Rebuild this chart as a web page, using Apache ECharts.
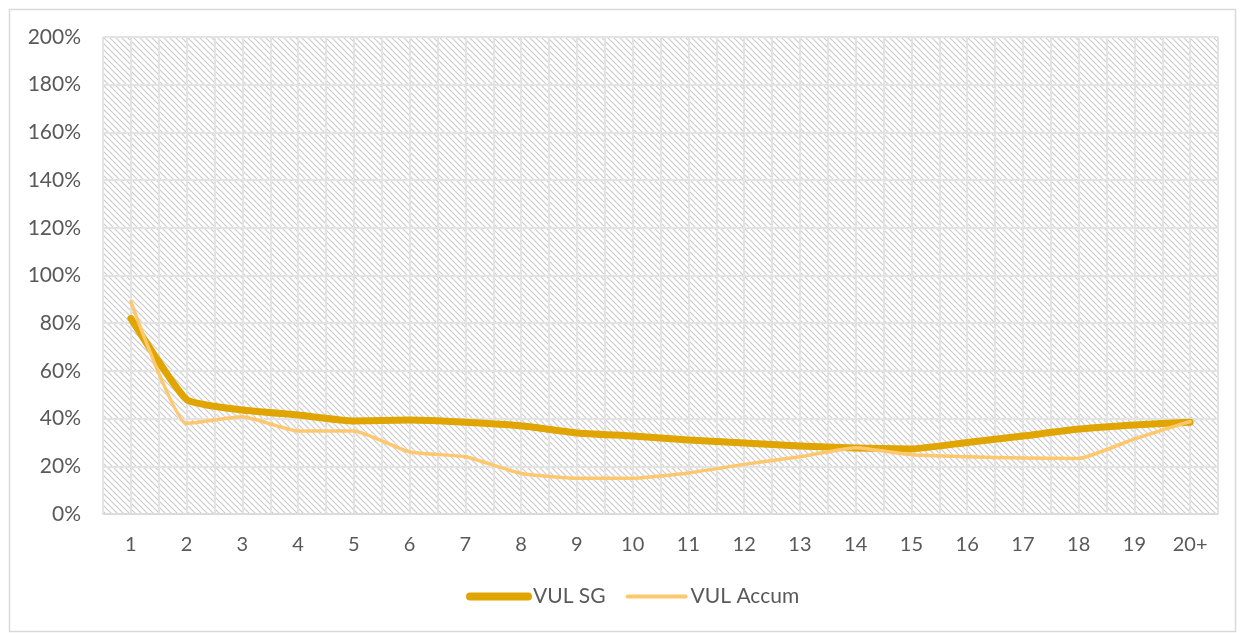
<!DOCTYPE html>
<html>
<head>
<meta charset="utf-8">
<script src="https://cdn.jsdelivr.net/npm/echarts@6/dist/echarts.min.js"></script>
<style>
html,body{margin:0;padding:0;background:#fff;}
#chart{width:1240px;height:633px;}
</style>
</head>
<body>
<div id="chart"></div>
<script>
const categories = ['1','2','3','4','5','6','7','8','9','10','11','12','13','14','15','16','17','18','19','20+'];
const vulSG    = [82, 48, 43.6, 41.5, 39, 39.4, 38.5, 37, 34, 32.7, 31, 29.8, 28.5, 27.7, 27.3, 30, 32.7, 35.6, 37.3, 38.5];
const vulAccum = [89, 38, 40.8, 34.8, 34.8, 26, 24, 17, 15, 15, 17.2, 20.8, 24, 27.8, 24.8, 24, 23.5, 23.3, 31.5, 38.8];
const yTicks = { min: 0, max: 200, interval: 20 };

// hatch pattern
const pc = document.createElement('canvas');
const s = 6;
pc.width = s; pc.height = s;
const g = pc.getContext('2d');
g.fillStyle = '#ffffff';
g.fillRect(0,0,s,s);
g.strokeStyle = '#cccccc';
g.lineWidth = 1.2;
g.beginPath();
g.moveTo(-1,-1); g.lineTo(s+1,s+1);
g.moveTo(-1,s-1); g.lineTo(1,s+1);
g.moveTo(s-1,-1); g.lineTo(s+1,1);
g.stroke();

const chart = echarts.init(document.getElementById('chart'));
const font = 'Lato, "Open Sans", sans-serif';
chart.setOption({
  animation: false,
  textStyle: { fontFamily: font },
  graphic: [{
    type: 'rect', left: 7, top: 7, shape: { width: 1226, height: 622 },
    style: { fill: 'none', stroke: '#d9d9d9', lineWidth: 1.5 }, silent: true, z: -10
  }],
  grid: {
    left: 103, right: 22, top: 37, bottom: 119,
    show: true, backgroundColor: { image: pc, repeat: 'repeat' }, borderWidth: 0
  },
  legend: {
    top: 586, left: 466, padding: 0,
    itemWidth: 58, itemHeight: 10, itemGap: 20,
    textStyle: { fontSize: 21, color: '#595959', fontFamily: font },
    data: [
      { name: 'VUL SG', itemStyle: { opacity: 0 }, lineStyle: { width: 8, cap: 'round', color: '#E0A500' } },
      { name: 'VUL Accum', itemStyle: { opacity: 0 }, lineStyle: { width: 4, cap: 'round', color: '#FFC76E' } }
    ]
  },
  xAxis: [{
    type: 'category', data: categories, boundaryGap: true,
    axisLine: { show: true, lineStyle: { color: '#d9d9d9', width: 1.5 } },
    axisTick: { show: false },
    axisLabel: { fontSize: 20, color: '#595959', margin: 21, fontFamily: font },
    splitLine: { show: true, lineStyle: { color: '#e3e3e3', width: 2 } }
  }, {
    type: 'value', min: 0, max: 40, interval: 1, show: true, position: 'bottom',
    axisLine: { show: false }, axisTick: { show: false }, axisLabel: { show: false },
    splitLine: { show: true, lineStyle: { color: '#e3e3e3', width: 2 } }
  }],
  yAxis: {
    type: 'value', min: yTicks.min, max: yTicks.max, interval: yTicks.interval,
    axisLine: { show: false }, axisTick: { show: false },
    axisLabel: { fontSize: 21, color: '#595959', margin: 22, formatter: '{value}%', fontFamily: font },
    splitLine: { show: true, lineStyle: { color: '#e3e3e3', width: 2 } }
  },
  series: [{
    name: 'VUL SG', type: 'line', data: vulSG, symbol: 'none', smooth: 0.15,
    lineStyle: { color: '#E0A500', width: 7, cap: 'round', join: 'round' },
    itemStyle: { color: '#E0A500' }, z: 3
  }, {
    name: 'VUL Accum', type: 'line', data: vulAccum, symbol: 'none', smooth: 0.15,
    lineStyle: { color: '#FFC76E', width: 3.5, cap: 'round', join: 'round' },
    itemStyle: { color: '#FFC76E' }, z: 4
  }]
});
</script>
</body>
</html>
